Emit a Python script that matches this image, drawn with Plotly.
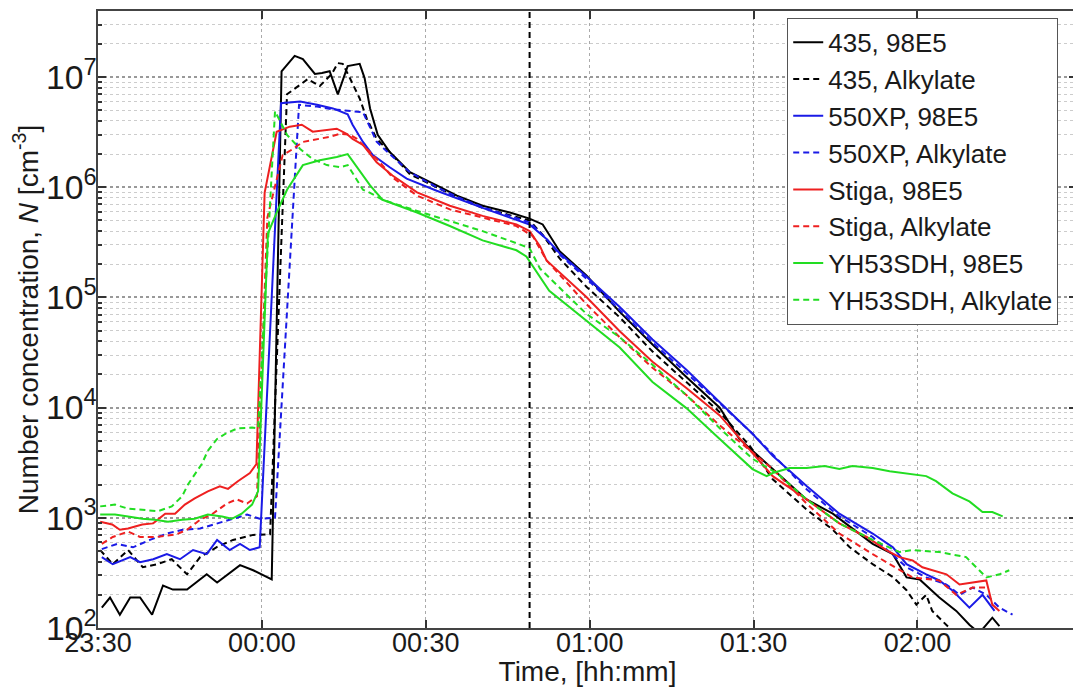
import plotly.graph_objects as go

# Time axis: minutes relative to 00:00 (negative = before midnight)
tick_minutes = [-30, 0, 30, 60, 90, 120]
tick_labels = ["23:30", "00:00", "00:30", "01:00", "01:30", "02:00"]
cooldown_start = 49  # vertical dashed marker (minutes after 00:00)

# (time [min after 00:00], number concentration [cm^-3])
s435_98e5 = [(-29.3,153),(-27.8,189),(-26.0,132),(-24.1,189),(-22.3,189),(-20.1,132),(-18.1,243),(-16.3,223),
    (-13.7,223),(-10.1,307),(-8.2,259),(-6.4,300),(-4.0,372),(-1.6,334),(0.2,300),(1.8,276),(3.6,1.13e7),
    (6.0,1.56e7),(7.5,1.46e7),(9.7,1.07e7),(11.0,1.09e7),(12.4,1.13e7),(13.9,6.98e6),(15.7,1.26e7),(17.9,1.32e7),
    (18.8,9.8e6),(19.8,5.19e6),(21.2,2.99e6),(23.4,2.09e6),(27.1,1.37e6),(32.0,1.04e6),(35.7,8.4e5),(40.4,6.8e5),
    (45.4,5.9e5),(49.0,5.2e5),(51.4,4.6e5),(54.5,2.63e5),(59.4,1.58e5),(65.5,7.4e4),(71.5,3.74e4),(77.7,1.9e4),
    (83.8,1.0e4),(87.4,5.2e3),(93.5,2.77e3),(99.7,1.47e3),(104.5,1.09e3),(107.6,830),(111.8,580),(115.5,468),
    (118.0,288),(120.4,276),(124.0,189),(127.1,143),(129.5,107),(131.3,90),(132.6,107),(133.7,124),(135.0,104)]

s435_alk = [(-29.6,510),(-27.3,379),(-24.5,510),(-21.8,356),(-19.2,379),(-16.5,421),(-13.7,307),(-11.3,440),
    (-8.2,544),(-5.3,630),(-1.6,700),(1.5,710),(4.6,6.98e6),(7.0,8.6e6),(8.4,9.6e6),(10.6,8.3e6),(12.8,1.07e7),
    (13.9,1.34e7),(14.8,1.32e7),(16.1,9.8e6),(17.9,6.4e6),(19.2,4.2e6),(21.0,2.75e6),(23.4,2.09e6),(27.1,1.31e6),
    (32.0,1.0e6),(35.7,8.1e5),(40.4,6.5e5),(45.4,5.6e5),(49.0,5.0e5),(51.4,3.7e5),(54.5,2.26e5),(59.4,1.25e5),
    (65.5,6.6e4),(71.5,3.23e4),(77.7,1.71e4),(83.8,9.1e3),(89.3,4.5e3),(93.5,2.24e3),(99.7,1.19e3),(104.5,780),
    (107.6,540),(111.8,380),(115.5,290),(118.0,220),(119.8,163),(121.6,200),(122.7,143),(125.3,107),(127.7,81)]

s550_98e5 = [(-29.3,440),(-27.3,379),(-24.1,440),(-22.3,396),(-19.9,421),(-17.4,468),(-15.0,421),(-12.6,510),
    (-10.1,468),(-8.2,630),(-5.9,510),(-4.0,580),(-2.2,510),(-0.4,540),(3.5,5.8e6),(7.0,6.0e6),(10.1,5.6e6),
    (13.0,5.2e6),(15.7,4.6e6),(16.6,3.7e6),(18.5,2.58e6),(20.3,1.96e6),(23.4,1.52e6),(26.5,1.2e6),(32.0,9.3e5),
    (35.7,7.9e5),(40.4,6.5e5),(45.4,5.3e5),(49.0,4.6e5),(52.1,3.4e5),(54.5,2.52e5),(59.4,1.55e5),(65.5,8.2e4),
    (71.5,4.16e4),(77.7,2.21e4),(83.8,1.12e4),(89.8,5.8e3),(93.5,3.65e3),(99.7,1.94e3),(105.7,1.09e3),
    (111.8,720),(115.5,540),(118.0,380),(121.6,307),(124.0,270),(126.4,219),(129.5,153),(131.9,200),(134.1,143)]

s550_alk = [(-29.3,520),(-26.5,580),(-23.6,540),(-20.5,630),(-17.4,720),(-14.5,780),(-11.3,800),(-8.2,890),
    (-5.3,980),(-2.7,1070),(-0.4,980),(2.4,1000),(6.8,5.6e6),(10.1,5.4e6),(13.0,5.1e6),(16.1,4.9e6),(18.5,4.8e6),
    (19.8,3.5e6),(21.0,2.6e6),(23.4,2.0e6),(27.1,1.37e6),(32.0,1.0e6),(35.7,8.2e5),(40.4,6.6e5),(45.4,5.5e5),
    (49.0,4.8e5),(52.1,3.4e5),(54.5,2.45e5),(59.4,1.48e5),(65.5,7.7e4),(71.5,3.9e4),(77.7,2.07e4),(83.8,1.1e4),
    (89.8,5.8e3),(99.7,1.82e3),(105.7,1.03e3),(111.8,670),(118.0,356),(121.6,288),(125.3,248),(127.7,200),
    (130.1,233),(132.6,200),(135.0,153),(137.4,132)]

stiga_98e5 = [(-29.6,920),(-27.4,870),(-26.0,780),(-24.5,800),(-21.9,870),(-19.9,890),(-17.7,1090),(-15.9,1090),
    (-14.1,1320),(-12.3,1500),(-9.9,1740),(-7.7,1930),(-6.2,1830),(-4.4,2150),(-2.2,2550),(-1.0,3080),(0.5,8.9e5),
    (2.7,3.19e6),(5.1,3.55e6),(7.3,3.7e6),(9.3,3.2e6),(11.2,3.3e6),(13.7,3.4e6),(15.5,3.06e6),(16.6,2.75e6),
    (18.5,2.42e6),(21.0,1.69e6),(23.9,1.28e6),(26.5,1.04e6),(28.4,9.0e5),(34.4,6.8e5),(40.4,5.5e5),(46.6,4.6e5),
    (49.0,4.0e5),(50.9,2.92e5),(52.1,2.17e5),(59.4,1.01e5),(65.5,4.93e4),(71.5,2.61e4),(77.7,1.51e4),(83.8,8.5e3),
    (89.8,3.9e3),(93.5,2.39e3),(99.7,1.47e3),(105.7,890),(110.7,670),(114.3,510),(116.7,440),(119.1,410),
    (120.9,356),(122.7,334),(125.3,307),(127.7,248),(130.1,259),(132.6,270),(133.7,163),(135.0,143)]

stiga_alk = [(-29.3,580),(-27.3,670),(-24.5,750),(-22.3,670),(-19.2,670),(-15.6,710),(-13.7,780),(-11.3,960),
    (-9.0,1090),(-6.4,1350),(-4.6,1470),(-2.7,1350),(-0.9,1570),(1.0,5.3e5),(3.8,1.96e6),(5.7,2.23e6),(7.5,2.58e6),
    (10.1,2.75e6),(12.4,2.87e6),(14.3,3.06e6),(16.1,3.0e6),(17.4,2.75e6),(19.2,2.23e6),(21.6,1.69e6),(23.9,1.23e6),
    (28.4,8.4e5),(34.4,6.3e5),(40.4,5.3e5),(46.6,4.45e5),(49.6,3.6e5),(52.1,2.17e5),(59.4,8.7e4),(65.5,4.35e4),
    (71.5,2.3e4),(77.7,1.3e4),(83.8,6.9e3),(89.8,3.9e3),(93.5,2.77e3),(99.7,1.35e3),(105.7,720),(111.8,468),
    (116.7,334),(119.1,288),(124.0,270),(127.1,200),(130.1,233),(132.6,233)]

yh_98e5 = [(-29.6,1070),(-26.9,1070),(-24.5,1030),(-21.9,980),(-19.6,960),(-17.2,920),(-14.6,960),(-12.3,980),
    (-9.9,1070),(-7.3,1030),(-5.5,980),(-3.7,1090),(-1.8,1320),(-0.7,1740),(1.1,3.8e5),(2.7,5.9e5),(4.6,9.5e5),
    (7.5,1.59e6),(10.6,1.76e6),(13.7,1.88e6),(15.7,2.0e6),(17.9,1.4e6),(19.8,1.04e6),(22.1,7.7e5),(28.4,5.9e5),
    (34.4,4.45e5),(40.4,3.3e5),(46.6,2.68e5),(48.4,2.36e5),(52.6,1.15e5),(59.4,6.1e4),(65.5,3.51e4),(71.5,1.71e4),
    (77.7,9.9e3),(83.8,5.2e3),(89.8,2.77e3),(92.4,2.39e3),(93.5,2.55e3),(96.6,2.83e3),(99.7,2.83e3),(103.0,2.95e3),
    (105.7,2.77e3),(108.1,2.95e3),(111.8,2.83e3),(114.9,2.65e3),(119.1,2.5e3),(121.6,2.39e3),(123.4,2.15e3),
    (126.4,1.67e3),(129.5,1.41e3),(131.9,1.13e3),(133.7,1.13e3),(135.6,1.03e3)]

yh_alk = [(-29.6,1270),(-26.9,1320),(-24.5,1210),(-21.9,1190),(-19.0,1150),(-16.5,1270),(-14.6,1570),(-13.5,2020),
    (-12.3,2500),(-11.0,3080),(-9.9,4060),(-8.2,5200),(-6.4,5900),(-4.4,6500),(-1.8,6600),(-0.7,6500),(2.4,4.9e6),
    (4.6,2.99e6),(7.0,2.23e6),(9.3,1.8e6),(11.9,1.59e6),(14.3,1.52e6),(15.7,1.59e6),(18.5,9.5e5),(19.8,8.9e5),
    (22.1,7.7e5),(28.4,6.1e5),(34.4,4.96e5),(40.4,4.0e5),(46.6,3.11e5),(49.0,2.8e5),(50.9,1.83e5),(59.4,7.1e4),
    (65.5,4.35e4),(71.5,2.45e4),(77.7,1.3e4),(83.8,6.5e3),(89.8,3.43e3),(94.2,2.55e3),(99.7,1.47e3),(105.7,890),
    (111.8,630),(116.7,489),(119.1,510),(124.0,489),(128.9,440),(132.6,288),(135.0,307),(136.8,334)]

BLACK, BLUE, RED, GREEN = "#000000", "#1a1ae6", "#ee2020", "#22dd22"
DASH = "6px,4px"
traces = [
    ("435, 98E5", s435_98e5, BLACK, "solid"),
    ("435, Alkylate", s435_alk, BLACK, DASH),
    ("550XP, 98E5", s550_98e5, BLUE, "solid"),
    ("550XP, Alkylate", s550_alk, BLUE, DASH),
    ("Stiga, 98E5", stiga_98e5, RED, "solid"),
    ("Stiga, Alkylate", stiga_alk, RED, DASH),
    ("YH53SDH, 98E5", yh_98e5, GREEN, "solid"),
    ("YH53SDH, Alkylate", yh_alk, GREEN, DASH),
]

fig = go.Figure()
for name, pts, color, dash in traces:
    fig.add_trace(go.Scatter(
        x=[p[0] for p in pts], y=[p[1] for p in pts], mode="lines", name=name,
        line=dict(color=color, width=2, dash=dash)))

fig.add_vline(x=cooldown_start, line=dict(color="black", width=2, dash=DASH), layer="above")

FONT = "Liberation Sans, Arial, sans-serif"
# The page body adds an 8px offset, so the figure is 8px smaller and margins shifted.
fig.update_layout(
    width=1073, height=679,
    margin=dict(l=90, r=4, t=3, b=59),
    paper_bgcolor="white", plot_bgcolor="white",
    font=dict(family=FONT, size=27, color="#1a1a1a"),
    legend=dict(x=0.704, xanchor="left", y=0.989, yanchor="top", bgcolor="white",
                bordercolor="#555555", borderwidth=1, font=dict(size=26), tracegroupgap=0),
)
fig.update_xaxes(
    range=[-30, 149.2], tickmode="array", tickvals=tick_minutes, ticktext=tick_labels,
    ticks="inside", ticklen=8, tickwidth=2, tickcolor="#333", ticklabelstandoff=-10,
    showline=True, linecolor="#444", linewidth=2, mirror="ticks", automargin=False,
    showgrid=True, gridcolor="#aaaaaa", griddash="dot", gridwidth=1, zeroline=False,
    title=dict(text="Time, [hh:mm]", standoff=4, font=dict(size=28)),
)
fig.update_yaxes(
    type="log", range=[2, 7.6], dtick=1, exponentformat="power", showexponent="all",
    ticks="inside", ticklen=8, tickwidth=2, tickcolor="#333", automargin=False, ticklabelstandoff=-6,
    minor=dict(ticks="inside", ticklen=4, tickcolor="#333", dtick="D1", showgrid=True,
               gridcolor="#cccccc", griddash="dot", gridwidth=1),
    showline=True, linecolor="#444", linewidth=2, mirror="ticks",
    showgrid=True, gridcolor="#999999", griddash="dot", gridwidth=1.5, zeroline=False,
    title=dict(text="Number concentration, <i>N</i> [cm<sup>-3</sup>]", standoff=10, font=dict(size=28)),
)

fig.write_html("out.html")
